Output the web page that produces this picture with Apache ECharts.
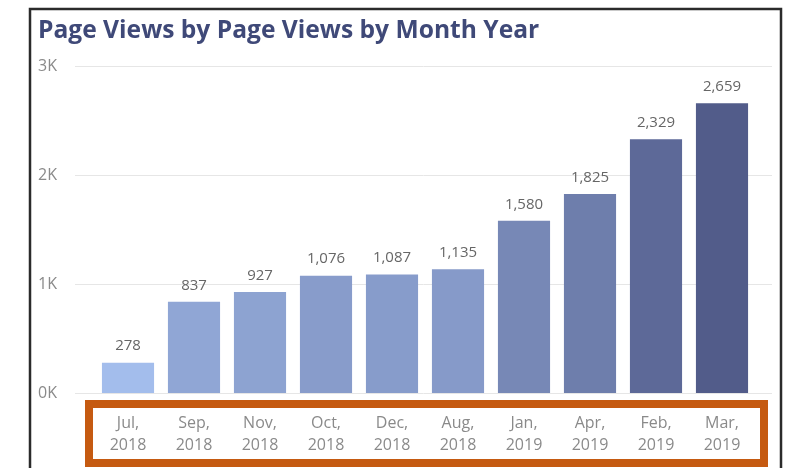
<!DOCTYPE html>
<html><head><meta charset="utf-8">
<script src="https://cdn.jsdelivr.net/npm/echarts@6/dist/echarts.min.js"></script>
<style>html,body{margin:0;padding:0;background:#fff}#c{width:785px;height:468px}</style>
</head><body><div id="c"></div>
<script>
const categories = ['Jul,\n2018','Sep,\n2018','Nov,\n2018','Oct,\n2018','Dec,\n2018','Aug,\n2018','Jan,\n2019','Apr,\n2019','Feb,\n2019','Mar,\n2019'];
const pageViews = [278, 837, 927, 1076, 1087, 1135, 1580, 1825, 2329, 2659];
const yTicks = [0, 1000, 2000, 3000];

const chart = echarts.init(document.getElementById('c'));
chart.setOption({
  animation: false,
  title: {
    text: 'Page Views by Page Views by Month Year',
    left: 33, top: 13,
    textStyle: {fontFamily: 'Open Sans', fontWeight: 'bold', fontSize: 24.6, color: '#3f4978'}
  },
  grid: [
    {left: 95, right: 30, top: 66, bottom: 75},
    {left: 75, right: 13, top: 66, bottom: 75}
  ],
  visualMap: {
    show: false, type: 'continuous', seriesIndex: 0, dimension: 1,
    min: Math.min(...pageViews), max: Math.max(...pageViews),
    inRange: {color: ['#a3bdec', '#525c8a']}
  },
  xAxis: [
    {type: 'category', gridIndex: 0, data: categories,
     axisLine: {show: false}, axisTick: {show: false},
     axisLabel: {interval: 0, margin: 19, fontFamily: 'Open Sans', fontSize: 16, lineHeight: 22, color: '#8a8a8a'}},
    {type: 'value', gridIndex: 1, show: false, min: 0, max: 1}
  ],
  yAxis: [
    {type: 'value', gridIndex: 0, min: yTicks[0], max: yTicks[yTicks.length-1], interval: 1000,
     axisLabel: {show: false}, splitLine: {show: false}, axisLine: {show: false}, axisTick: {show: false}},
    {type: 'value', gridIndex: 1, min: yTicks[0], max: yTicks[yTicks.length-1], interval: 1000,
     axisLine: {show: false}, axisTick: {show: false},
     splitLine: {lineStyle: {color: '#e6e6e6', width: 1}},
     axisLabel: {margin: 37, align: 'left', fontFamily: 'Open Sans', fontSize: 16, color: '#8a8a8a',
       formatter: v => (v/1000) + 'K'}}
  ],
  series: [{
    type: 'bar', xAxisIndex: 0, yAxisIndex: 0,
    data: pageViews, barCategoryGap: '21%',
    label: {show: true, position: 'top', distance: 9, fontFamily: 'Open Sans', fontSize: 15, color: '#666',
      formatter: p => p.value.toLocaleString('en-US')}
  }],
  graphic: [
    {type: 'rect', shape: {x: 30, y: 9, width: 751, height: 470}, style: {fill: 'none', stroke: '#2b2b2b', lineWidth: 2.5}, z: 100},
    {type: 'rect', shape: {x: 89, y: 404, width: 675, height: 59}, style: {fill: 'none', stroke: '#c55a11', lineWidth: 8}, z: 100}
  ]
});
</script></body></html>
